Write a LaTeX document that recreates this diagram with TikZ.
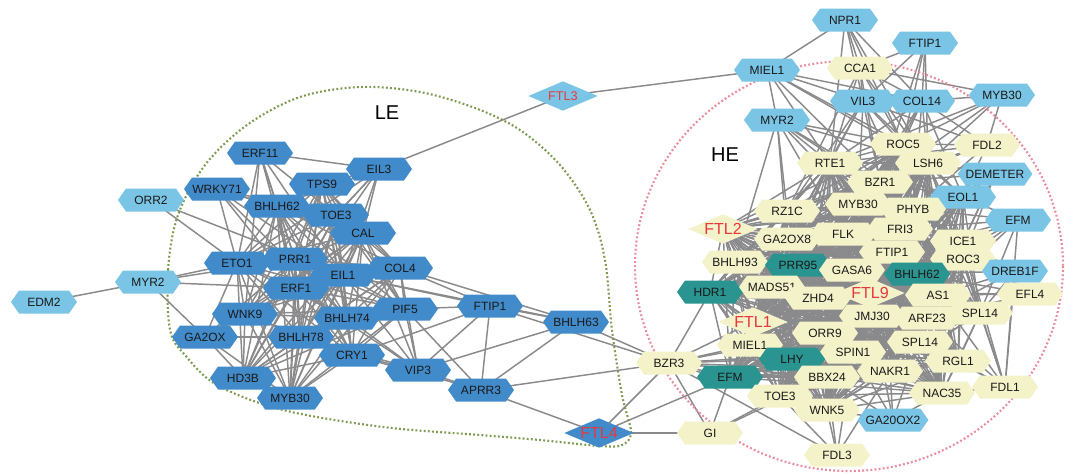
\documentclass[tikz,border=0pt]{standalone}
\usepackage{fontspec}
\setmainfont{Liberation Sans}
\usetikzlibrary{shapes.symbols,backgrounds}
\definecolor{leblue}{HTML}{428BCA}
\definecolor{skyblue}{HTML}{7AC5E5}
\definecolor{tealnode}{HTML}{2A9490}
\definecolor{paleyel}{HTML}{F4F2C9}
\definecolor{edgegray}{HTML}{8A8A8C}
\definecolor{ftlred}{HTML}{E8383D}
\definecolor{legreen}{HTML}{7E9B52}
\definecolor{hepink}{HTML}{E88B9B}
\tikzset{
  gene/.style={signal, signal to=west and east, signal pointer angle=110,
    minimum width=49.5pt, minimum height=17.25pt, inner sep=0pt,
    font=\fontsize{9}{10}\selectfont, text=black!90},
  le/.style={gene, fill=leblue},
  sky/.style={gene, fill=skyblue},
  hub/.style={gene, fill=tealnode},
  he/.style={gene, fill=paleyel},
  ftl/.style={rectangle, inner sep=0pt, minimum width=52pt, minimum height=22pt,
    text=ftlred, font=\fontsize{12}{13}\selectfont,
    path picture={\fill[#1] (path picture bounding box.north) -- (path picture bounding box.east)
      -- (path picture bounding box.south) -- (path picture bounding box.west) -- cycle;}},
  link/.style={draw=edgegray, line width=1.1pt},
  zone/.style={line width=1.6pt, dash pattern=on 1.4pt off 1.7pt},
  tag/.style={font=\fontsize{15}{16}\selectfont},
}
\begin{document}
\begin{tikzpicture}[x=0.75pt, y=-0.75pt]
\useasboundingbox (0,0) rectangle (1075,475);

% left side, outside the groups
\node[sky] (orr2) at (151,200) {ORR2};
\node[sky] (myr2a) at (148,282) {MYR2};
\node[sky] (edm2) at (44,302) {EDM2};
\node[ftl=skyblue, font=\fontsize{9.5}{10}\selectfont] (ftl3) at (563,96) {FTL3};

% LE group
\node[le] (erf11) at (260,153) {ERF11};
\node[le] (eil3) at (379,169) {EIL3};
\node[le] (wrky71) at (217,189) {WRKY71};
\node[le] (tps9) at (322,184) {TPS9};
\node[le] (bhlh62a) at (277,206) {BHLH62};
\node[le] (toe3a) at (336,215) {TOE3};
\node[le] (cal) at (363,233) {CAL};
\node[le] (eto1) at (237,263) {ETO1};
\node[le] (prr1) at (295,259) {PRR1};
\node[le] (eil1) at (343,275) {EIL1};
\node[le] (col4) at (400,268) {COL4};
\node[le] (erf1) at (296,288) {ERF1};
\node[le] (wnk9) at (245,314) {WNK9};
\node[le] (bhlh74) at (347,318) {BHLH74};
\node[le] (pif5) at (405,309) {PIF5};
\node[le] (ftip1a) at (490,306) {FTIP1};
\node[le] (bhlh63) at (576,322) {BHLH63};
\node[le] (ga2ox) at (205,337) {GA2OX};
\node[le] (bhlh78) at (301,337) {BHLH78};
\node[le] (cry1) at (352,355) {CRY1};
\node[le] (vip3) at (418,370) {VIP3};
\node[le] (aprr3) at (481,390) {APRR3};
\node[le] (hd3b) at (243,378) {HD3B};
\node[le] (myb30a) at (290,398) {MYB30};
\node[ftl=leblue] (ftl4) at (599,433) {FTL4};

% top, outside the HE ring
\node[sky] (npr1) at (845,20) {NPR1};
\node[sky] (miel1a) at (767,70) {MIEL1};
\node[he] (cca1) at (860,68) {CCA1};
\node[sky] (ftip1c) at (925,43) {FTIP1};
\node[sky] (vil3) at (863,101) {VIL3};
\node[sky] (col14) at (922,101) {COL14};
\node[sky] (myb30c) at (1002,95) {MYB30};
\node[sky] (myr2b) at (777,120) {MYR2};

% HE group
\node[he] (roc5) at (903,144) {ROC5};
\node[he] (fdl2) at (987,145) {FDL2};
\node[he] (rte1) at (830,163) {RTE1};
\node[he] (lsh6) at (928,163) {LSH6};
\node[sky] (demeter) at (995,174) {DEMETER};
\node[he] (bzr1) at (880,182) {BZR1};
\node[sky] (eol1) at (963,197) {EOL1};
\node[he] (rz1c) at (787,211) {RZ1C};
\node[he] (myb30b) at (858,204) {MYB30};
\node[he] (phyb) at (913,209) {PHYB};
\node[sky] (efmr) at (1018,220) {EFM};
\node[he] (ga2ox8) at (787,239) {GA2OX8};
\node[he] (flk) at (843,234) {FLK};
\node[he] (fri3) at (900,229) {FRI3};
\node[he] (ice1) at (963,241) {ICE1};
\node[he] (ftip1b) at (892,252) {FTIP1};
\node[he] (roc3) at (963,259) {ROC3};
\node[he] (bhlh93) at (735,262) {BHLH93};
\node[hub] (prr95) at (798,265) {PRR95};
\node[he] (gasa6) at (852,270) {GASA6};
\node[hub] (bhlh62b) at (917,274) {BHLH62};
\node[sky] (dreb1f) at (1015,271) {DREB1F};
\node[hub] (hdr1) at (710,292) {HDR1};
\node[he] (mads51) at (772,287) {MADS51};
\node[he] (zhd4) at (818,298) {ZHD4};
\node[he] (as1) at (938,295) {AS1};
\node[he] (efl4) at (1030,294) {EFL4};
\node[he] (jmj30) at (872,316) {JMJ30};
\node[he] (arf23) at (927,318) {ARF23};
\node[he] (spl14a) at (980,313) {SPL14};
\node[he] (orr9) at (825,333) {ORR9};
\node[he] (spl14b) at (920,342) {SPL14};
\node[he] (miel1b) at (750,345) {MIEL1};
\node[he] (spin1) at (853,352) {SPIN1};
\node[hub] (lhy) at (792,359) {LHY};
\node[he] (rgl1) at (958,361) {RGL1};
\node[he] (bzr3) at (669,363) {BZR3};
\node[hub] (efmt) at (730,377) {EFM};
\node[he] (bbx24) at (827,377) {BBX24};
\node[he] (nakr1) at (890,371) {NAKR1};
\node[he] (fdl1) at (1005,387) {FDL1};
\node[he] (nac35) at (942,393) {NAC35};
\node[he] (toe3b) at (780,396) {TOE3};
\node[he] (wnk5) at (827,410) {WNK5};
\node[sky] (ga20ox2) at (893,420) {GA20OX2};
\node[he] (gi) at (710,433) {GI};
\node[he] (fdl3) at (837,455) {FDL3};
\node[ftl=paleyel] (ftl2) at (723,229) {FTL2};
\node[ftl=paleyel] (ftl9) at (870,293) {FTL9};
\node[ftl=paleyel] (ftl1) at (753,322) {FTL1};

\node[tag] (le) at (387,113) {LE};
\node[tag] (he) at (725,155) {HE};

\begin{scope}[on background layer]
% dense core of LE
\def\lecore{bhlh62a,tps9,toe3a,cal,eto1,prr1,eil1,col4,erf1,wnk9,bhlh74,pif5,bhlh78,cry1,hd3b,myb30a}
\foreach \a [count=\i] in \lecore {
  \foreach \b [count=\j] in \lecore {
    \ifnum\j>\i \draw[link] (\a.center) -- (\b.center); \fi
  }
}
% dense core of HE
\def\hecore{rte1,roc5,lsh6,bzr1,rz1c,myb30b,phyb,ga2ox8,flk,fri3,ftip1b,ice1,roc3,bhlh93,prr95,gasa6,bhlh62b,hdr1,mads51,zhd4,ftl9,as1,ftl1,jmj30,arf23,spl14a,spl14b,orr9,miel1b,lhy,spin1,rgl1,bbx24,nakr1,toe3b,wnk5,nac35,eol1,ftl2,efmt}
\foreach \a [count=\i] in \hecore {
  \foreach \b [count=\j] in \hecore {
    \ifnum\j>\i \draw[link] (\a.center) -- (\b.center); \fi
  }
}
% the other links
\foreach \a/\b in {erf11/eil3, erf11/eto1, erf11/prr1, erf11/erf1, erf11/bhlh62a, erf11/toe3a, erf11/wnk9, erf11/eil1,
  eil3/ftl3, eil3/tps9, eil3/toe3a, eil3/cal, eil3/prr1, eil3/bhlh62a, eil3/erf1, eil3/eil1, eil3/eto1,
  wrky71/bhlh62a, wrky71/erf1, wrky71/cal, wrky71/eil1, wrky71/bhlh74, wrky71/eto1, wrky71/toe3a,
  orr2/eto1, orr2/eil1, myr2a/edm2, myr2a/eto1, myr2a/prr1, myr2a/erf1, myr2a/ga2ox,
  ga2ox/wnk9, ga2ox/hd3b, ga2ox/eto1, ga2ox/prr1, ga2ox/bhlh78, ga2ox/erf1, ga2ox/myb30a, ga2ox/cal,
  vip3/cry1, vip3/pif5, vip3/col4, vip3/bhlh74, vip3/erf1, vip3/bhlh78, vip3/eil1, vip3/cal,
  ftip1a/pif5, ftip1a/eil1, ftip1a/col4, ftip1a/bhlh63, ftip1a/aprr3, ftip1a/vip3, ftip1a/cry1, ftip1a/bzr3,
  bhlh63/eil1, bhlh63/col4, bhlh63/bzr3, bhlh63/vip3, bhlh63/aprr3,
  aprr3/pif5, aprr3/cry1, aprr3/bzr3, aprr3/ftl4, aprr3/vip3,
  ftl4/gi, ftl4/bzr3, ftl4/efmt,
  bzr3/gi, bzr3/fdl3, bzr3/efmt, bzr3/lhy, bzr3/miel1b, bzr3/toe3b, bzr3/hdr1, bzr3/ftl1, bzr3/orr9, bzr3/bbx24, bzr3/spin1, bzr3/nakr1,
  gi/toe3b, gi/efmt, gi/bbx24,
  fdl3/wnk5, fdl3/nakr1, fdl3/bbx24, fdl3/spin1, fdl3/toe3b,
  ftl3/miel1a,
  npr1/miel1a, npr1/cca1, npr1/vil3, npr1/col14, npr1/rte1, npr1/roc5, npr1/lsh6,
  miel1a/myr2b, miel1a/vil3, miel1a/col14, miel1a/roc5, miel1a/rte1, miel1a/lsh6, miel1a/bzr1,
  ftip1c/col14, ftip1c/vil3, ftip1c/cca1, ftip1c/roc5, ftip1c/lsh6, ftip1c/bzr1,
  cca1/vil3, cca1/col14, cca1/rte1, cca1/roc5, cca1/myb30c, cca1/lsh6, cca1/bzr1, cca1/rz1c,
  vil3/col14, vil3/rte1, vil3/roc5, vil3/lsh6, vil3/bzr1, vil3/myb30b, vil3/phyb, vil3/rz1c, vil3/fdl2, vil3/ga2ox8,
  col14/myb30c, col14/roc5, col14/lsh6, col14/bzr1, col14/rte1, col14/fdl2, col14/phyb, col14/eol1, col14/myb30b,
  myb30c/roc5, myb30c/lsh6, myb30c/bzr1, myb30c/fdl2, myb30c/rte1,
  myr2b/rte1, myr2b/bzr1, myr2b/rz1c, myr2b/myb30b, myr2b/roc5, myr2b/phyb, myr2b/ga2ox8, myr2b/flk, myr2b/lsh6, myr2b/bhlh93,
  fdl2/roc5, fdl2/lsh6, fdl2/bzr1, fdl2/phyb, fdl2/eol1, fdl2/rte1,
  demeter/lsh6, demeter/bzr1, demeter/phyb, demeter/eol1, demeter/ice1, demeter/fri3, demeter/roc3, demeter/as1,
  efmr/eol1, efmr/ice1, efmr/roc3, efmr/phyb, efmr/fri3, efmr/ftip1b, efmr/as1, efmr/spl14a, efmr/bhlh62b,
  dreb1f/ice1, dreb1f/roc3, dreb1f/bhlh62b, dreb1f/as1, dreb1f/spl14a, dreb1f/ftip1b, dreb1f/arf23,
  efl4/as1, efl4/spl14a, efl4/arf23, efl4/roc3, efl4/ice1, efl4/bhlh62b, efl4/ftl9,
  fdl1/spl14a, fdl1/rgl1, fdl1/spl14b, fdl1/nac35, fdl1/as1, fdl1/arf23, fdl1/roc3, fdl1/ice1, fdl1/efmr, fdl1/dreb1f,
  ga20ox2/nakr1, ga20ox2/spin1, ga20ox2/bbx24, ga20ox2/spl14b, ga20ox2/wnk5, ga20ox2/nac35, ga20ox2/jmj30}
  \draw[link] (\a.center) -- (\b.center);

% group outlines
\draw[zone, legreen] plot[smooth cycle, tension=0.55] coordinates {
  (170,330) (168,270) (178,215) (205,165) (247,125) (300,97) (360,87) (420,92)
  (475,108) (520,130) (560,165) (590,210) (605,260) (612,330) (622,395) (631,432)
  (622,445) (600,446) (540,440) (480,435) (383,427) (283,410) (217,385) (185,355)};
\draw[zone, hepink] (849,266) ellipse [x radius=214, y radius=205];
\end{scope}
\end{tikzpicture}
\end{document}
